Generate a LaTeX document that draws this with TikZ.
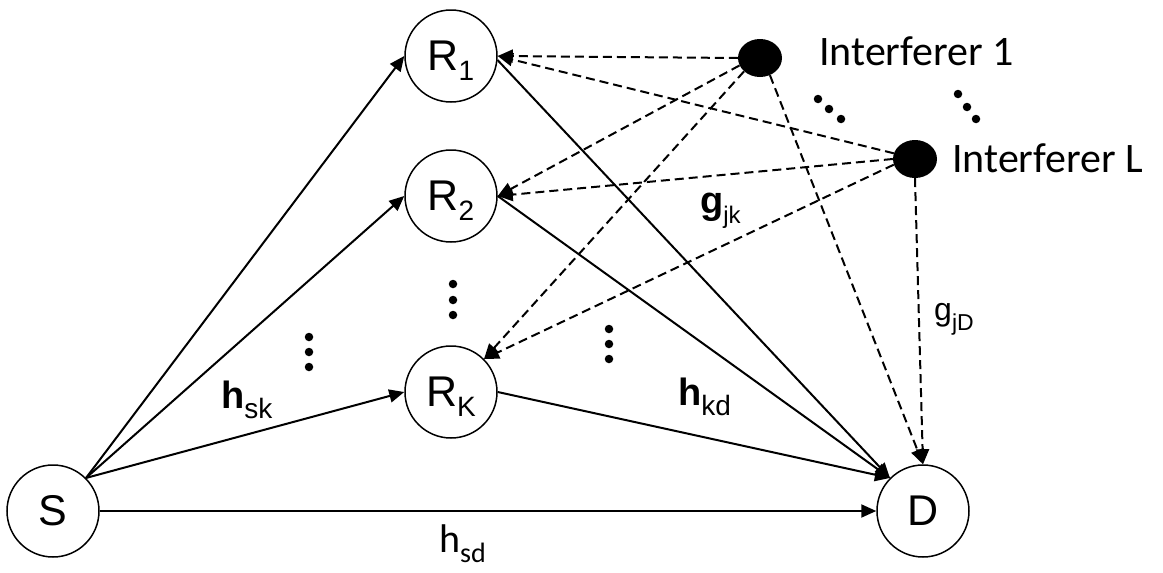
\documentclass[tikz,border=0pt]{standalone}
\usepackage{fontspec}
\setmainfont{Liberation Sans}
\newfontfamily\calfont{Carlito}
\usetikzlibrary{arrows.meta,shapes.geometric}
\newcommand\lsub[3][28]{#2\smash{\raisebox{-10pt}{\fontsize{#1}{#1}\selectfont #3}}}
\begin{document}
\begin{tikzpicture}[x=1pt,y=-1pt,
  relay/.style={circle,draw,line width=1.5pt,minimum size=92pt,inner sep=0pt,font=\fontsize{43}{43}\selectfont},
  intf/.style={ellipse,fill=black,minimum width=44pt,minimum height=38pt,inner sep=0pt},
  link/.style={line width=2pt,-{Triangle[length=15pt,width=13pt]}},
  ilink/.style={link,dash pattern=on 9pt off 5pt},
  dotn/.style={circle,fill=black,inner sep=0pt,minimum size=8.5pt},
  lbl/.style={anchor=base west,inner sep=0pt,font=\fontsize{38}{38}\selectfont},
  clbl/.style={anchor=base west,inner sep=0pt,font=\calfont\fontsize{42}{42}\selectfont}]
\path[use as bounding box,fill=white] (0,0) rectangle (1163,573);
% nodes
\node[relay] (S) at (53,511) {S};
\node[relay] (D) at (923,511) {D};
\node[relay] (R1) at (451,56) {\lsub{R}{1}};
\node[relay] (R2) at (451,196) {\lsub{R}{2}};
\node[relay] (RK) at (451,392) {\lsub{R}{K}};
\node[intf] (I1) at (760,58) {};
\node[intf] (IL) at (915,159) {};
% solid links
\draw[link] (S.45) -- (R1.west);
\draw[link] (S.45) -- (R2.west);
\draw[link] (S.45) -- (RK.west);
\draw[link] (S.east) -- (D.west);
\draw[link] (R1.-5) -- (D.135);
\draw[link] (R2.east) -- (D.135);
\draw[link] (RK.east) -- (D.135);
% interference links
\draw[ilink] (I1.west) -- (R1.east);
\draw[ilink] (IL.165) -- (R1.east);
\draw[ilink] (I1.200) -- (R2.east);
\draw[ilink] (IL.west) -- (R2.east);
\draw[ilink] (I1.220) -- (RK.45);
\draw[ilink] (IL.195) -- (RK.45);
\draw[ilink] (I1.-60) -- (D.north);
\draw[ilink] (IL.south) -- (D.north);
% labels
\node[lbl] (hsk) at (221,408) {\textbf{h}\lsub{}{sk}};
\node[lbl] (hkd) at (678,405) {\textbf{h}\lsub{}{kd}};
\node[lbl] (gjk) at (700,213) {\textbf{g}\lsub[24]{}{jk}};
\node[lbl,font=\fontsize{32}{32}\selectfont] (gjD) at (934,320) {g\lsub[23]{}{jD}};
\node[lbl,font=\calfont\fontsize{40}{40}\selectfont] (hsd) at (439,552) {h\lsub{}{sd}};
\node[clbl] (t1) at (819,65) {Interferer 1};
\node[clbl] (tL) at (952,172) {Interferer L};
% ellipsis dots
\node[dotn] (a1) at (453,284) {};
\node[dotn] (a2) at (453,300) {};
\node[dotn] (a3) at (453,315) {};
\node[dotn] (b1) at (609,329) {};
\node[dotn] (b2) at (609,344) {};
\node[dotn] (b3) at (609,359) {};
\node[dotn] (c1) at (309,337) {};
\node[dotn] (c2) at (309,352) {};
\node[dotn] (c3) at (309,367) {};
\node[dotn] (e1) at (818,99) {};
\node[dotn] (e2) at (829,109) {};
\node[dotn] (e3) at (841,119) {};
\node[dotn] (f1) at (958,94) {};
\node[dotn] (f2) at (967,107) {};
\node[dotn] (f3) at (976,119) {};
\end{tikzpicture}
\end{document}
